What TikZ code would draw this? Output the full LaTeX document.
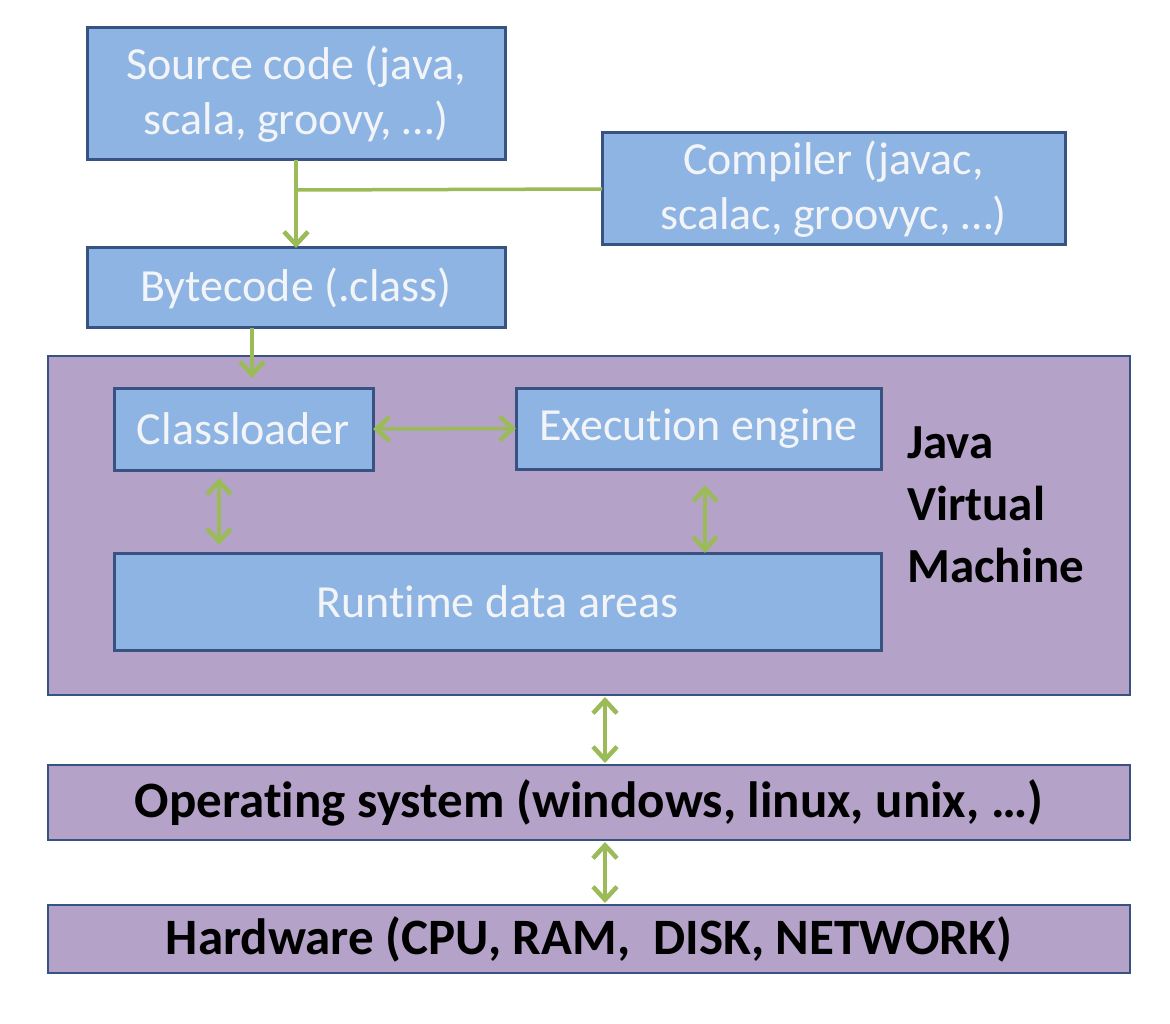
\documentclass[tikz,border=0pt]{standalone}
\usepackage{fontspec}
\setmainfont[Ligatures=NoCommon]{Carlito}
\usetikzlibrary{arrows.meta}
\definecolor{boxblue}{RGB}{141,180,226}
\definecolor{boxline}{RGB}{56,83,130}
\definecolor{jvmpurple}{RGB}{180,162,200}
\definecolor{arrowgreen}{RGB}{155,187,89}
\definecolor{textwhite}{RGB}{242,244,248}
\tikzset{
  bluebox/.style={draw=boxline, fill=boxblue, line width=3pt, outer sep=0pt, inner sep=0pt,
    text=textwhite, font=\fontsize{46}{55}\selectfont, align=center},
  purplebox/.style={draw=boxline, fill=jvmpurple, line width=2.5pt, outer sep=0pt, inner sep=0pt},
  ostext/.style={font=\fontsize{51}{55}\selectfont\bfseries, text=black},
  conn/.style={draw=arrowgreen, line width=3.5pt},
  tip/.style={-{Straight Barb[length=13pt,width=24pt,line width=4.5pt]}},
  tips/.style={{Straight Barb[length=13pt,width=24pt,line width=4.5pt]}-{Straight Barb[length=13pt,width=24pt,line width=4.5pt]}}
}
\begin{document}
\begin{tikzpicture}[x=1pt,y=-1pt]
\useasboundingbox (0,0) rectangle (1170,1024);
\fill[white] (0,0) rectangle (1170,1024);
% boxes
\node[bluebox, minimum width=418pt, minimum height=132pt] (src) at (296,94) {Source code (java,\\scala, groovy, \dots)};
\node[bluebox, minimum width=463pt, minimum height=112pt] (comp) at (833.5,189) {Compiler (javac,\\scalac, groovyc, \dots)};
\node[bluebox, minimum width=418pt, minimum height=80pt] (byte) at (296,288) {Bytecode (.class)};
\node[purplebox, minimum width=1082pt, minimum height=339pt] (jvm) at (589,525.5) {};
\node[bluebox, minimum width=259pt, minimum height=82pt] (cl) at (243.5,429) {Classloader};
\node[bluebox, minimum width=365pt, minimum height=81pt] (ee) at (698.5,428.5) {Execution engine};
\node[bluebox, minimum width=767pt, minimum height=97pt] (rt) at (497.5,601.5) {Runtime data areas};
\node[font=\fontsize{49}{62}\selectfont\bfseries, align=left, anchor=north west, inner sep=0pt] (jvmlabel) at (907,427) {Java\\Virtual\\Machine};
\node[purplebox, minimum width=1082pt, minimum height=75pt, ostext] (os) at (589,802.5) {Operating system (windows, linux, unix, \dots)};
\node[purplebox, minimum width=1082pt, minimum height=68pt, ostext] (hw) at (589,939) {Hardware (CPU, RAM,\ \ DISK, NETWORK)};
% connectors
\coordinate (join) at (296,190);
\draw[conn, tip] (src.south -| join) -- (byte.north -| join);
\draw[conn] (comp.west) -- (join);
\coordinate (bx) at (252,0);
\draw[conn, tip] (byte.south -| bx) -- ([yshift=10pt]cl.north -| bx);
\draw[conn, tips] (cl.east) -- (ee.west);
\coordinate (clx) at (219,0);
\draw[conn, tips] ([yshift=-8pt]cl.south -| clx) -- ([yshift=8pt]rt.north -| clx);
\coordinate (eex) at (705,0);
\draw[conn, tips] ([yshift=-16pt]ee.south -| eex) -- (rt.north -| eex);
\coordinate (ox) at (605,0);
\draw[conn, tips] ([yshift=-2pt]jvm.south -| ox) -- ([yshift=2pt]os.north -| ox);
\draw[conn, tips] ([yshift=-2pt]os.south -| ox) -- ([yshift=2pt]hw.north -| ox);
\end{tikzpicture}
\end{document}
